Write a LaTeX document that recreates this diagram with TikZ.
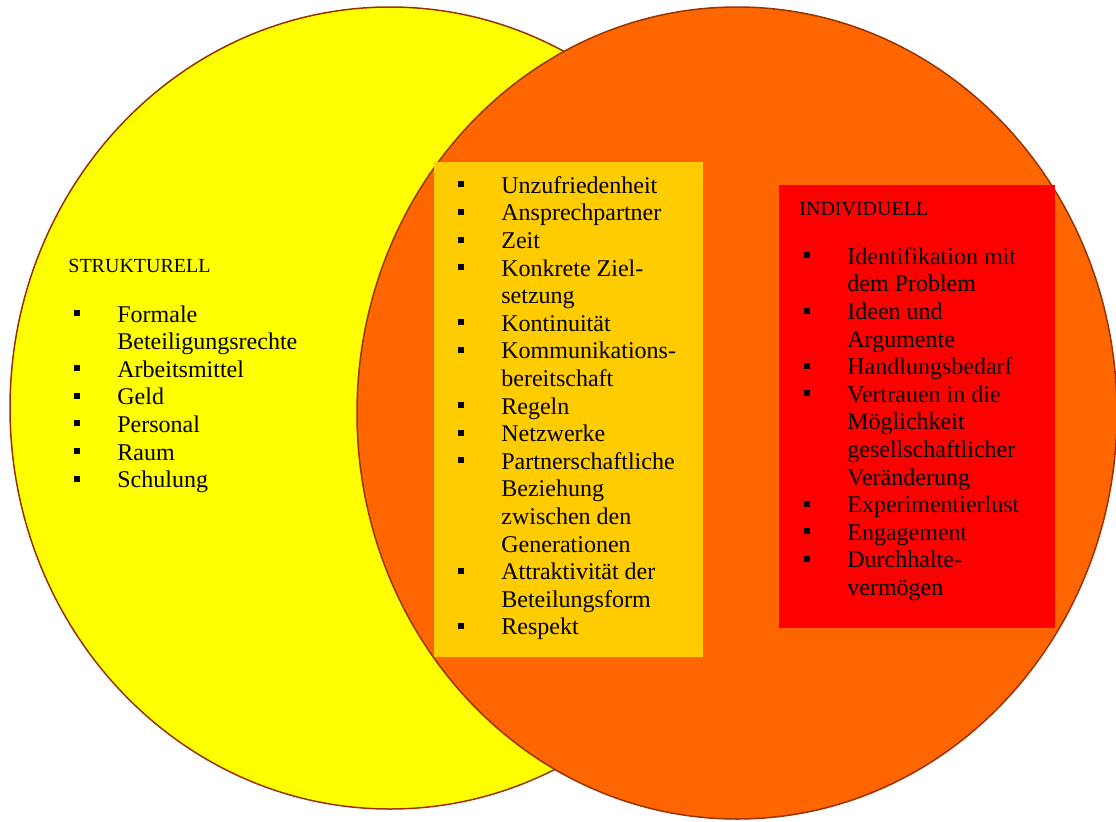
\documentclass[tikz,border=0pt]{standalone}
\usepackage{fontspec}
\setmainfont{Liberation Serif}
\usetikzlibrary{positioning}
\definecolor{gelb}{HTML}{FFFF00}
\definecolor{hellorange}{HTML}{FF6600}
\definecolor{gold}{HTML}{FFCC00}
\definecolor{rot}{HTML}{FF0000}
\definecolor{rand}{HTML}{993300}
\newcommand{\pkt}{\makebox[21.5pt][l]{\rule[3pt]{3pt}{3pt}}}
\newcommand{\weiter}{\hspace*{21.5pt}}

\begin{document}
\begin{tikzpicture}[x=0.5pt,y=-0.5pt]
\tikzstyle{kreis}=[draw=rand, line width=0.75pt]
\tikzstyle{liste}=[inner sep=0pt, align=left, anchor=north west, font=\fontsize{12}{13.8}\selectfont]
\tikzstyle{titel}=[inner sep=0pt, anchor=base west, font=\fontsize{10}{12}\selectfont]

\useasboundingbox (0,0) rectangle (1116,821);
\filldraw[kreis, fill=gelb] (390,408) ellipse (380 and 401);
\filldraw[kreis, fill=hellorange] (737,413) ellipse (380 and 406);
\fill[gold] (434,162) rectangle (703,657);
\fill[rot] (779,185) rectangle (1055,628);

% strukturell
\node[titel] (strukturell) at (68,272) {STRUKTURELL};
\node[liste] (links) at (74,305) {\pkt Formale\\ \weiter Beteiligungsrechte\\ \pkt Arbeitsmittel\\
  \pkt Geld\\ \pkt Personal\\ \pkt Raum\\ \pkt Schulung};

% beides
\node[liste] (mitte) at (458,176) {\pkt Unzufriedenheit\\ \pkt Ansprechpartner\\ \pkt Zeit\\
  \pkt Konkrete Ziel-\\ \weiter setzung\\ \pkt Kontinuität\\ \pkt Kommunikations-\\
  \weiter bereitschaft\\ \pkt Regeln\\ \pkt Netzwerke\\ \pkt Partnerschaftliche\\
  \weiter Beziehung\\ \weiter zwischen den\\ \weiter Generationen\\
  \pkt Attraktivität der\\ \weiter Beteilungsform\\ \pkt Respekt};

% individuell
\node[titel] (individuell) at (799,215) {INDIVIDUELL};
\node[liste] (rechts) at (804,247) {\pkt Identifikation mit\\ \weiter dem Problem\\
  \pkt Ideen und\\ \weiter Argumente\\ \pkt Handlungsbedarf\\ \pkt Vertrauen in die\\
  \weiter Möglichkeit\\ \weiter gesellschaftlicher\\ \weiter Veränderung\\
  \pkt Experimentierlust\\ \pkt Engagement\\ \pkt Durchhalte-\\ \weiter vermögen};
\end{tikzpicture}
\end{document}
